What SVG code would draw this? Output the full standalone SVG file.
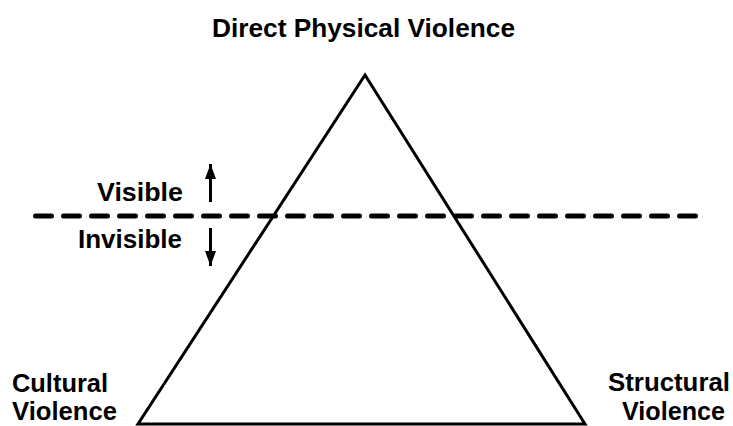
<svg xmlns="http://www.w3.org/2000/svg" width="733" height="426" viewBox="0 0 733 426">
<style>
.t{font-family:"Liberation Sans",Arial,sans-serif;font-weight:bold;font-size:25px;fill:#000}
.arr{stroke:#000;stroke-width:3;fill:none}
</style>
<defs>
<marker id="ah" markerWidth="16" markerHeight="12" refX="15" refY="6" orient="auto" markerUnits="userSpaceOnUse">
<path d="M0,0.5 L15,6 L0,11.5 Z" fill="#000"/>
</marker>
</defs>
<rect width="733" height="426" fill="#fff"/>
<g id="triangle">
<path d="M365,75 L138,424 L585,424 Z" fill="none" stroke="#000" stroke-width="3" stroke-linejoin="miter"/>
</g>
<g id="connectors">
<line x1="35.5" y1="216" x2="695.5" y2="216" stroke="#000" stroke-width="5" stroke-linecap="round" stroke-dasharray="16 12"/>
<line class="arr" x1="210.5" y1="202" x2="210.5" y2="164" marker-end="url(#ah)"/>
<line class="arr" x1="210.5" y1="228" x2="210.5" y2="266" marker-end="url(#ah)"/>
</g>
<g id="top-label"><text class="t" x="212" y="37" textLength="303" lengthAdjust="spacingAndGlyphs">Direct Physical Violence</text></g>
<g id="visible"><text class="t" x="97" y="201" textLength="86" lengthAdjust="spacingAndGlyphs">Visible</text></g>
<g id="invisible"><text class="t" x="78" y="248" textLength="104" lengthAdjust="spacingAndGlyphs">Invisible</text></g>
<g id="cultural">
<text class="t" x="12" y="392" textLength="96" lengthAdjust="spacingAndGlyphs">Cultural</text>
<text class="t" x="12" y="420" textLength="105" lengthAdjust="spacingAndGlyphs">Violence</text>
</g>
<g id="structural">
<text class="t" x="608" y="391" textLength="122" lengthAdjust="spacingAndGlyphs">Structural</text>
<text class="t" x="622" y="420" textLength="103" lengthAdjust="spacingAndGlyphs">Violence</text>
</g>
</svg>
